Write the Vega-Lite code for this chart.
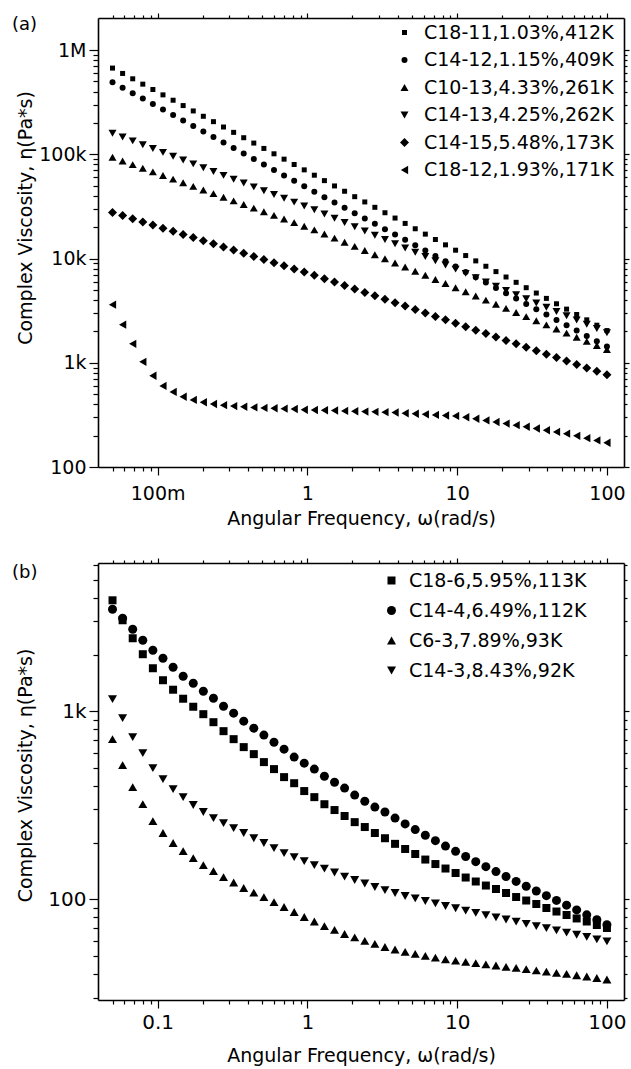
{
"$schema": "https://vega.github.io/schema/vega-lite/v6.json",
"padding": {"left": 12, "top": 12, "right": 5, "bottom": 5},
"background": "white",
"bounds": "flush",
"spacing": 96,
"resolve": {"scale": {"shape": "independent", "size": "independent"}, "legend": {"shape": "independent", "size": "independent"}},
"config": {
  "font": "DejaVu Sans",
  "view": {"stroke": null},
  "axis": {"domainColor": "black", "tickColor": "black", "labelColor": "black", "titleColor": "black", "domainWidth": 1.6, "tickWidth": 1.2, "grid": false, "labelFont": "DejaVu Sans", "titleFont": "DejaVu Sans", "titleFontWeight": "normal", "labelFontSize": 19, "titleFontSize": 19, "labelFlush": false, "labelOverlap": false},
  "legend": {"labelFont": "DejaVu Sans", "labelColor": "black", "labelLimit": 400},
  "title": {"font": "DejaVu Sans", "fontWeight": "normal", "color": "black"}
},
"vconcat": [
{
  "width": 526, "height": 449,
  "title": {"text": "(a)", "anchor": "start", "frame": "group", "offset": 0, "baseline": "middle", "dx": -86, "dy": 31, "fontSize": 18},
  "resolve": {"axis": {"x": "independent", "y": "independent"}},
  "data": {"values": [
{"s":"C18-11,1.03%,412K","w":0.05,"v":671400},{"s":"C18-11,1.03%,412K","w":0.05839,"v":596500},{"s":"C18-11,1.03%,412K","w":0.0682,"v":529900},{"s":"C18-11,1.03%,412K","w":0.07965,"v":470800},{"s":"C18-11,1.03%,412K","w":0.093,"v":418200},{"s":"C18-11,1.03%,412K","w":0.1086,"v":371600},{"s":"C18-11,1.03%,412K","w":0.1269,"v":330100},{"s":"C18-11,1.03%,412K","w":0.1481,"v":293300},{"s":"C18-11,1.03%,412K","w":0.173,"v":260500},{"s":"C18-11,1.03%,412K","w":0.202,"v":231500},
{"s":"C18-11,1.03%,412K","w":0.236,"v":205600},{"s":"C18-11,1.03%,412K","w":0.2755,"v":182700},{"s":"C18-11,1.03%,412K","w":0.3218,"v":162300},{"s":"C18-11,1.03%,412K","w":0.3758,"v":144200},{"s":"C18-11,1.03%,412K","w":0.4388,"v":128100},{"s":"C18-11,1.03%,412K","w":0.5125,"v":113800},{"s":"C18-11,1.03%,412K","w":0.5985,"v":101100},{"s":"C18-11,1.03%,412K","w":0.6989,"v":89800},{"s":"C18-11,1.03%,412K","w":0.8161,"v":79800},{"s":"C18-11,1.03%,412K","w":0.9528,"v":70900},
{"s":"C18-11,1.03%,412K","w":1.113,"v":63000},{"s":"C18-11,1.03%,412K","w":1.2995,"v":55900},{"s":"C18-11,1.03%,412K","w":1.518,"v":49700},{"s":"C18-11,1.03%,412K","w":1.772,"v":44200},{"s":"C18-11,1.03%,412K","w":2.07,"v":39200},{"s":"C18-11,1.03%,412K","w":2.417,"v":34900},{"s":"C18-11,1.03%,412K","w":2.822,"v":31000},{"s":"C18-11,1.03%,412K","w":3.296,"v":27500},{"s":"C18-11,1.03%,412K","w":3.849,"v":24450},{"s":"C18-11,1.03%,412K","w":4.495,"v":21720},
{"s":"C18-11,1.03%,412K","w":5.249,"v":19300},{"s":"C18-11,1.03%,412K","w":6.13,"v":17140},{"s":"C18-11,1.03%,412K","w":7.158,"v":15230},{"s":"C18-11,1.03%,412K","w":8.359,"v":13530},{"s":"C18-11,1.03%,412K","w":9.762,"v":12020},{"s":"C18-11,1.03%,412K","w":11.4,"v":10680},{"s":"C18-11,1.03%,412K","w":13.31,"v":9490},{"s":"C18-11,1.03%,412K","w":15.55,"v":8430},{"s":"C18-11,1.03%,412K","w":18.16,"v":7490},{"s":"C18-11,1.03%,412K","w":21.2,"v":6650},
{"s":"C18-11,1.03%,412K","w":24.76,"v":5910},{"s":"C18-11,1.03%,412K","w":28.91,"v":5250},{"s":"C18-11,1.03%,412K","w":33.76,"v":4665},{"s":"C18-11,1.03%,412K","w":39.43,"v":4145},{"s":"C18-11,1.03%,412K","w":46.04,"v":3680},{"s":"C18-11,1.03%,412K","w":53.77,"v":3270},{"s":"C18-11,1.03%,412K","w":62.79,"v":2905},{"s":"C18-11,1.03%,412K","w":73.33,"v":2581},{"s":"C18-11,1.03%,412K","w":85.63,"v":2293},{"s":"C18-11,1.03%,412K","w":100,"v":2037},
{"s":"C14-12,1.15%,409K","w":0.05,"v":492000},{"s":"C14-12,1.15%,409K","w":0.05839,"v":435900},{"s":"C14-12,1.15%,409K","w":0.0682,"v":386100},{"s":"C14-12,1.15%,409K","w":0.07965,"v":342100},{"s":"C14-12,1.15%,409K","w":0.093,"v":303100},{"s":"C14-12,1.15%,409K","w":0.1086,"v":268500},{"s":"C14-12,1.15%,409K","w":0.1269,"v":237900},{"s":"C14-12,1.15%,409K","w":0.1481,"v":210700},{"s":"C14-12,1.15%,409K","w":0.173,"v":186700},{"s":"C14-12,1.15%,409K","w":0.202,"v":165400},
{"s":"C14-12,1.15%,409K","w":0.236,"v":146500},{"s":"C14-12,1.15%,409K","w":0.2755,"v":129800},{"s":"C14-12,1.15%,409K","w":0.3218,"v":115000},{"s":"C14-12,1.15%,409K","w":0.3758,"v":101900},{"s":"C14-12,1.15%,409K","w":0.4388,"v":90250},{"s":"C14-12,1.15%,409K","w":0.5125,"v":79950},{"s":"C14-12,1.15%,409K","w":0.5985,"v":70830},{"s":"C14-12,1.15%,409K","w":0.6989,"v":62750},{"s":"C14-12,1.15%,409K","w":0.8161,"v":55590},{"s":"C14-12,1.15%,409K","w":0.9528,"v":49250},
{"s":"C14-12,1.15%,409K","w":1.113,"v":43630},{"s":"C14-12,1.15%,409K","w":1.2995,"v":38780},{"s":"C14-12,1.15%,409K","w":1.518,"v":34470},{"s":"C14-12,1.15%,409K","w":1.772,"v":30640},{"s":"C14-12,1.15%,409K","w":2.07,"v":27230},{"s":"C14-12,1.15%,409K","w":2.417,"v":24200},{"s":"C14-12,1.15%,409K","w":2.822,"v":21510},{"s":"C14-12,1.15%,409K","w":3.296,"v":19120},{"s":"C14-12,1.15%,409K","w":3.849,"v":16990},{"s":"C14-12,1.15%,409K","w":4.495,"v":15100},
{"s":"C14-12,1.15%,409K","w":5.249,"v":13420},{"s":"C14-12,1.15%,409K","w":6.13,"v":11930},{"s":"C14-12,1.15%,409K","w":7.158,"v":10600},{"s":"C14-12,1.15%,409K","w":8.359,"v":9425},{"s":"C14-12,1.15%,409K","w":9.762,"v":8377},{"s":"C14-12,1.15%,409K","w":11.4,"v":7446},{"s":"C14-12,1.15%,409K","w":13.31,"v":6618},{"s":"C14-12,1.15%,409K","w":15.55,"v":5882},{"s":"C14-12,1.15%,409K","w":18.16,"v":5228},{"s":"C14-12,1.15%,409K","w":21.2,"v":4647},
{"s":"C14-12,1.15%,409K","w":24.76,"v":4130},{"s":"C14-12,1.15%,409K","w":28.91,"v":3671},{"s":"C14-12,1.15%,409K","w":33.76,"v":3263},{"s":"C14-12,1.15%,409K","w":39.43,"v":2900},{"s":"C14-12,1.15%,409K","w":46.04,"v":2578},{"s":"C14-12,1.15%,409K","w":53.77,"v":2291},{"s":"C14-12,1.15%,409K","w":62.79,"v":2036},{"s":"C14-12,1.15%,409K","w":73.33,"v":1810},{"s":"C14-12,1.15%,409K","w":85.63,"v":1609},{"s":"C14-12,1.15%,409K","w":100,"v":1430},
{"s":"C10-13,4.33%,261K","w":0.05,"v":93500},{"s":"C10-13,4.33%,261K","w":0.05839,"v":86300},{"s":"C10-13,4.33%,261K","w":0.0682,"v":79650},{"s":"C10-13,4.33%,261K","w":0.07965,"v":73520},{"s":"C10-13,4.33%,261K","w":0.093,"v":67860},{"s":"C10-13,4.33%,261K","w":0.1086,"v":62630},{"s":"C10-13,4.33%,261K","w":0.1269,"v":57810},{"s":"C10-13,4.33%,261K","w":0.1481,"v":53360},{"s":"C10-13,4.33%,261K","w":0.173,"v":49250},{"s":"C10-13,4.33%,261K","w":0.202,"v":45460},
{"s":"C10-13,4.33%,261K","w":0.236,"v":41960},{"s":"C10-13,4.33%,261K","w":0.2755,"v":38730},{"s":"C10-13,4.33%,261K","w":0.3218,"v":35750},{"s":"C10-13,4.33%,261K","w":0.3758,"v":33000},{"s":"C10-13,4.33%,261K","w":0.4388,"v":30460},{"s":"C10-13,4.33%,261K","w":0.5125,"v":28110},{"s":"C10-13,4.33%,261K","w":0.5985,"v":25950},{"s":"C10-13,4.33%,261K","w":0.6989,"v":23950},{"s":"C10-13,4.33%,261K","w":0.8161,"v":22110},{"s":"C10-13,4.33%,261K","w":0.9528,"v":20400},
{"s":"C10-13,4.33%,261K","w":1.113,"v":18830},{"s":"C10-13,4.33%,261K","w":1.2995,"v":17190},{"s":"C10-13,4.33%,261K","w":1.518,"v":15690},{"s":"C10-13,4.33%,261K","w":1.772,"v":14320},{"s":"C10-13,4.33%,261K","w":2.07,"v":13070},{"s":"C10-13,4.33%,261K","w":2.417,"v":11930},{"s":"C10-13,4.33%,261K","w":2.822,"v":10890},{"s":"C10-13,4.33%,261K","w":3.296,"v":9941},{"s":"C10-13,4.33%,261K","w":3.849,"v":9074},{"s":"C10-13,4.33%,261K","w":4.495,"v":8283},
{"s":"C10-13,4.33%,261K","w":5.249,"v":7561},{"s":"C10-13,4.33%,261K","w":6.13,"v":6902},{"s":"C10-13,4.33%,261K","w":7.158,"v":6300},{"s":"C10-13,4.33%,261K","w":8.359,"v":5751},{"s":"C10-13,4.33%,261K","w":9.762,"v":5249},{"s":"C10-13,4.33%,261K","w":11.4,"v":4791},{"s":"C10-13,4.33%,261K","w":13.31,"v":4374},{"s":"C10-13,4.33%,261K","w":15.55,"v":3992},{"s":"C10-13,4.33%,261K","w":18.16,"v":3644},{"s":"C10-13,4.33%,261K","w":21.2,"v":3326},
{"s":"C10-13,4.33%,261K","w":24.76,"v":3036},{"s":"C10-13,4.33%,261K","w":28.91,"v":2772},{"s":"C10-13,4.33%,261K","w":33.76,"v":2530},{"s":"C10-13,4.33%,261K","w":39.43,"v":2309},{"s":"C10-13,4.33%,261K","w":46.04,"v":2108},{"s":"C10-13,4.33%,261K","w":53.77,"v":1924},{"s":"C10-13,4.33%,261K","w":62.79,"v":1756},{"s":"C10-13,4.33%,261K","w":73.33,"v":1603},{"s":"C10-13,4.33%,261K","w":85.63,"v":1463},{"s":"C10-13,4.33%,261K","w":100,"v":1336},
{"s":"C14-13,4.25%,262K","w":0.05,"v":159200},{"s":"C14-13,4.25%,262K","w":0.05839,"v":146300},{"s":"C14-13,4.25%,262K","w":0.0682,"v":134400},{"s":"C14-13,4.25%,262K","w":0.07965,"v":123500},{"s":"C14-13,4.25%,262K","w":0.093,"v":113500},{"s":"C14-13,4.25%,262K","w":0.1086,"v":104300},{"s":"C14-13,4.25%,262K","w":0.1269,"v":95840},{"s":"C14-13,4.25%,262K","w":0.1481,"v":88070},{"s":"C14-13,4.25%,262K","w":0.173,"v":80930},{"s":"C14-13,4.25%,262K","w":0.202,"v":74360},
{"s":"C14-13,4.25%,262K","w":0.236,"v":68330},{"s":"C14-13,4.25%,262K","w":0.2755,"v":62790},{"s":"C14-13,4.25%,262K","w":0.3218,"v":57700},{"s":"C14-13,4.25%,262K","w":0.3758,"v":53020},{"s":"C14-13,4.25%,262K","w":0.4388,"v":48720},{"s":"C14-13,4.25%,262K","w":0.5125,"v":44770},{"s":"C14-13,4.25%,262K","w":0.5985,"v":41140},{"s":"C14-13,4.25%,262K","w":0.6989,"v":37800},{"s":"C14-13,4.25%,262K","w":0.8161,"v":34740},{"s":"C14-13,4.25%,262K","w":0.9528,"v":31920},
{"s":"C14-13,4.25%,262K","w":1.113,"v":29330},{"s":"C14-13,4.25%,262K","w":1.2995,"v":26710},{"s":"C14-13,4.25%,262K","w":1.518,"v":24320},{"s":"C14-13,4.25%,262K","w":1.772,"v":22150},{"s":"C14-13,4.25%,262K","w":2.07,"v":20170},{"s":"C14-13,4.25%,262K","w":2.417,"v":18360},{"s":"C14-13,4.25%,262K","w":2.822,"v":16720},{"s":"C14-13,4.25%,262K","w":3.296,"v":15230},{"s":"C14-13,4.25%,262K","w":3.849,"v":13870},{"s":"C14-13,4.25%,262K","w":4.495,"v":12630},
{"s":"C14-13,4.25%,262K","w":5.249,"v":11500},{"s":"C14-13,4.25%,262K","w":6.13,"v":10470},{"s":"C14-13,4.25%,262K","w":7.158,"v":9535},{"s":"C14-13,4.25%,262K","w":8.359,"v":8683},{"s":"C14-13,4.25%,262K","w":9.762,"v":7907},{"s":"C14-13,4.25%,262K","w":11.4,"v":7200},{"s":"C14-13,4.25%,262K","w":13.31,"v":6556},{"s":"C14-13,4.25%,262K","w":15.55,"v":5970},{"s":"C14-13,4.25%,262K","w":18.16,"v":5437},{"s":"C14-13,4.25%,262K","w":21.2,"v":4951},
{"s":"C14-13,4.25%,262K","w":24.76,"v":4508},{"s":"C14-13,4.25%,262K","w":28.91,"v":4105},{"s":"C14-13,4.25%,262K","w":33.76,"v":3738},{"s":"C14-13,4.25%,262K","w":39.43,"v":3404},{"s":"C14-13,4.25%,262K","w":46.04,"v":3100},{"s":"C14-13,4.25%,262K","w":53.77,"v":2823},{"s":"C14-13,4.25%,262K","w":62.79,"v":2570},{"s":"C14-13,4.25%,262K","w":73.33,"v":2341},{"s":"C14-13,4.25%,262K","w":85.63,"v":2131},{"s":"C14-13,4.25%,262K","w":100,"v":1941},
{"s":"C14-15,5.48%,173K","w":0.05,"v":27670},{"s":"C14-15,5.48%,173K","w":0.05839,"v":25820},{"s":"C14-15,5.48%,173K","w":0.0682,"v":24090},{"s":"C14-15,5.48%,173K","w":0.07965,"v":22470},{"s":"C14-15,5.48%,173K","w":0.093,"v":20970},{"s":"C14-15,5.48%,173K","w":0.1086,"v":19560},{"s":"C14-15,5.48%,173K","w":0.1269,"v":18250},{"s":"C14-15,5.48%,173K","w":0.1481,"v":17030},{"s":"C14-15,5.48%,173K","w":0.173,"v":15890},{"s":"C14-15,5.48%,173K","w":0.202,"v":14820},
{"s":"C14-15,5.48%,173K","w":0.236,"v":13830},{"s":"C14-15,5.48%,173K","w":0.2755,"v":12900},{"s":"C14-15,5.48%,173K","w":0.3218,"v":12040},{"s":"C14-15,5.48%,173K","w":0.3758,"v":11230},{"s":"C14-15,5.48%,173K","w":0.4388,"v":10480},{"s":"C14-15,5.48%,173K","w":0.5125,"v":9778},{"s":"C14-15,5.48%,173K","w":0.5985,"v":9123},{"s":"C14-15,5.48%,173K","w":0.6989,"v":8512},{"s":"C14-15,5.48%,173K","w":0.8161,"v":7942},{"s":"C14-15,5.48%,173K","w":0.9528,"v":7410},
{"s":"C14-15,5.48%,173K","w":1.113,"v":6913},{"s":"C14-15,5.48%,173K","w":1.2995,"v":6408},{"s":"C14-15,5.48%,173K","w":1.518,"v":5941},{"s":"C14-15,5.48%,173K","w":1.772,"v":5507},{"s":"C14-15,5.48%,173K","w":2.07,"v":5105},{"s":"C14-15,5.48%,173K","w":2.417,"v":4733},{"s":"C14-15,5.48%,173K","w":2.822,"v":4387},{"s":"C14-15,5.48%,173K","w":3.296,"v":4067},{"s":"C14-15,5.48%,173K","w":3.849,"v":3770},{"s":"C14-15,5.48%,173K","w":4.495,"v":3495},
{"s":"C14-15,5.48%,173K","w":5.249,"v":3240},{"s":"C14-15,5.48%,173K","w":6.13,"v":3003},{"s":"C14-15,5.48%,173K","w":7.158,"v":2784},{"s":"C14-15,5.48%,173K","w":8.359,"v":2581},{"s":"C14-15,5.48%,173K","w":9.762,"v":2393},{"s":"C14-15,5.48%,173K","w":11.4,"v":2218},{"s":"C14-15,5.48%,173K","w":13.31,"v":2056},{"s":"C14-15,5.48%,173K","w":15.55,"v":1906},{"s":"C14-15,5.48%,173K","w":18.16,"v":1767},{"s":"C14-15,5.48%,173K","w":21.2,"v":1638},
{"s":"C14-15,5.48%,173K","w":24.76,"v":1518},{"s":"C14-15,5.48%,173K","w":28.91,"v":1408},{"s":"C14-15,5.48%,173K","w":33.76,"v":1305},{"s":"C14-15,5.48%,173K","w":39.43,"v":1210},{"s":"C14-15,5.48%,173K","w":46.04,"v":1121},{"s":"C14-15,5.48%,173K","w":53.77,"v":1039},{"s":"C14-15,5.48%,173K","w":62.79,"v":963},{"s":"C14-15,5.48%,173K","w":73.33,"v":893},{"s":"C14-15,5.48%,173K","w":85.63,"v":828},{"s":"C14-15,5.48%,173K","w":100,"v":768},
{"s":"C18-12,1.93%,171K","w":0.05,"v":3610},{"s":"C18-12,1.93%,171K","w":0.05839,"v":2320},{"s":"C18-12,1.93%,171K","w":0.0682,"v":1520},{"s":"C18-12,1.93%,171K","w":0.07965,"v":1020},{"s":"C18-12,1.93%,171K","w":0.093,"v":750},{"s":"C18-12,1.93%,171K","w":0.1086,"v":600},{"s":"C18-12,1.93%,171K","w":0.1269,"v":525},{"s":"C18-12,1.93%,171K","w":0.1481,"v":472},{"s":"C18-12,1.93%,171K","w":0.173,"v":440},{"s":"C18-12,1.93%,171K","w":0.202,"v":418},
{"s":"C18-12,1.93%,171K","w":0.236,"v":402},{"s":"C18-12,1.93%,171K","w":0.2755,"v":392},{"s":"C18-12,1.93%,171K","w":0.3218,"v":384},{"s":"C18-12,1.93%,171K","w":0.3758,"v":378},{"s":"C18-12,1.93%,171K","w":0.4388,"v":373},{"s":"C18-12,1.93%,171K","w":0.5125,"v":369},{"s":"C18-12,1.93%,171K","w":0.5985,"v":366},{"s":"C18-12,1.93%,171K","w":0.6989,"v":363},{"s":"C18-12,1.93%,171K","w":0.8161,"v":360},{"s":"C18-12,1.93%,171K","w":0.9528,"v":354},
{"s":"C18-12,1.93%,171K","w":1.113,"v":352},{"s":"C18-12,1.93%,171K","w":1.2995,"v":350},{"s":"C18-12,1.93%,171K","w":1.518,"v":348},{"s":"C18-12,1.93%,171K","w":1.772,"v":345},{"s":"C18-12,1.93%,171K","w":2.07,"v":343},{"s":"C18-12,1.93%,171K","w":2.417,"v":340},{"s":"C18-12,1.93%,171K","w":2.822,"v":338},{"s":"C18-12,1.93%,171K","w":3.296,"v":336},{"s":"C18-12,1.93%,171K","w":3.849,"v":333},{"s":"C18-12,1.93%,171K","w":4.495,"v":328},
{"s":"C18-12,1.93%,171K","w":5.249,"v":324},{"s":"C18-12,1.93%,171K","w":6.13,"v":320},{"s":"C18-12,1.93%,171K","w":7.158,"v":316},{"s":"C18-12,1.93%,171K","w":8.359,"v":312},{"s":"C18-12,1.93%,171K","w":9.762,"v":309},{"s":"C18-12,1.93%,171K","w":11.4,"v":300},{"s":"C18-12,1.93%,171K","w":13.31,"v":290},{"s":"C18-12,1.93%,171K","w":15.55,"v":280},{"s":"C18-12,1.93%,171K","w":18.16,"v":270},{"s":"C18-12,1.93%,171K","w":21.2,"v":261},
{"s":"C18-12,1.93%,171K","w":24.76,"v":252},{"s":"C18-12,1.93%,171K","w":28.91,"v":243},{"s":"C18-12,1.93%,171K","w":33.76,"v":234},{"s":"C18-12,1.93%,171K","w":39.43,"v":225},{"s":"C18-12,1.93%,171K","w":46.04,"v":217},{"s":"C18-12,1.93%,171K","w":53.77,"v":209},{"s":"C18-12,1.93%,171K","w":62.79,"v":199},{"s":"C18-12,1.93%,171K","w":73.33,"v":189},{"s":"C18-12,1.93%,171K","w":85.63,"v":180},{"s":"C18-12,1.93%,171K","w":100,"v":171}
  ]},
  "layer": [
    {
      "mark": {"type": "point", "filled": true, "opacity": 1, "strokeWidth": 0},
      "encoding": {
        "x": {"field": "w", "type": "quantitative", "scale": {"type": "log", "domain": [0.04, 130], "nice": false},
              "axis": {"orient": "bottom", "values": [0.1, 1, 10, 100], "format": "~s", "tickSize": 8, "labelPadding": 9, "title": "Angular Frequency, ω(rad/s)", "titleY": 51, "titleBaseline": "middle"}},
        "y": {"field": "v", "type": "quantitative", "scale": {"type": "log", "domain": [100, 2030000], "nice": false},
              "axis": {"orient": "left", "values": [100, 1000, 10000, 100000, 1000000], "format": "~s", "tickSize": 9, "labelPadding": 3, "title": "Complex Viscosity, η(Pa*s)", "titleX": -73, "titleY": 199.5, "titleAngle": 270, "titleBaseline": "middle", "titleAlign": "center"}},
        "shape": {"field": "s", "type": "nominal",
                  "scale": {"domain": ["C18-11,1.03%,412K", "C14-12,1.15%,409K", "C10-13,4.33%,261K", "C14-13,4.25%,262K", "C14-15,5.48%,173K", "C18-12,1.93%,171K"], "range": ["square", "circle", "triangle-up", "triangle-down", "diamond", "triangle-left"]},
                  "legend": {"title": null, "orient": "none", "legendX": 297, "legendY": 5, "labelFontSize": 19, "labelOffset": 10, "rowPadding": 7.5, "padding": 0, "symbolFillColor": "black", "symbolStrokeWidth": 0}},
        "size": {"field": "s", "type": "nominal",
                 "scale": {"type": "ordinal", "domain": ["C18-11,1.03%,412K", "C14-12,1.15%,409K", "C10-13,4.33%,261K", "C14-13,4.25%,262K", "C14-15,5.48%,173K", "C18-12,1.93%,171K"], "range": [25, 36, 64, 64, 81, 70]},
                 "legend": {"title": null, "orient": "none", "legendX": 297, "legendY": 5, "labelFontSize": 19, "labelOffset": 10, "rowPadding": 7.5, "padding": 0, "symbolFillColor": "black", "symbolStrokeWidth": 0}},
        "color": {"value": "black"}
      }
    },
    {
      "mark": {"type": "point", "opacity": 0},
      "encoding": {
        "x": {"field": "w", "type": "quantitative", "axis": {"orient": "bottom", "values": [0.05,0.06,0.07,0.08,0.09,0.2,0.3,0.4,0.5,0.6,0.7,0.8,0.9,2,3,4,5,6,7,8,9,20,30,40,50,60,70,80,90], "labels": false, "title": null, "domain": false, "tickSize": 4}},
        "y": {"field": "v", "type": "quantitative", "axis": {"orient": "left", "values": [200,300,400,500,600,700,800,900,2000,3000,4000,5000,6000,7000,8000,9000,20000,30000,40000,50000,60000,70000,80000,90000,200000,300000,400000,500000,600000,700000,800000,900000], "labels": false, "title": null, "domain": false, "tickSize": 5}}
      }
    },
    {
      "mark": {"type": "point", "opacity": 0},
      "encoding": {
        "x": {"field": "w", "type": "quantitative", "axis": {"orient": "top", "values": [0.1, 1, 10, 100], "labels": false, "title": null, "tickSize": 5}},
        "y": {"field": "v", "type": "quantitative", "axis": {"orient": "right", "values": [100, 1000, 10000, 100000, 1000000], "labels": false, "title": null, "tickSize": 5}}
      }
    },
    {
      "mark": {"type": "point", "opacity": 0},
      "encoding": {
        "x": {"field": "w", "type": "quantitative", "axis": {"orient": "top", "values": [0.05,0.06,0.07,0.08,0.09,0.2,0.3,0.4,0.5,0.6,0.7,0.8,0.9,2,3,4,5,6,7,8,9,20,30,40,50,60,70,80,90], "labels": false, "title": null, "domain": false, "tickSize": 3}},
        "y": {"field": "v", "type": "quantitative", "axis": {"orient": "right", "values": [200,300,400,500,600,700,800,900,2000,3000,4000,5000,6000,7000,8000,9000,20000,30000,40000,50000,60000,70000,80000,90000,200000,300000,400000,500000,600000,700000,800000,900000], "labels": false, "title": null, "domain": false, "tickSize": 3}}
      }
    }
  ]
},
{
  "width": 526, "height": 437,
  "title": {"text": "(b)", "anchor": "start", "frame": "group", "offset": 0, "baseline": "middle", "dx": -86, "dy": 34, "fontSize": 18},
  "resolve": {"axis": {"x": "independent", "y": "independent"}},
  "data": {"values": [
{"s":"C18-6,5.95%,113K","w":0.05,"v":3889},{"s":"C18-6,5.95%,113K","w":0.05839,"v":3045},{"s":"C18-6,5.95%,113K","w":0.0682,"v":2443},{"s":"C18-6,5.95%,113K","w":0.07965,"v":2009},{"s":"C18-6,5.95%,113K","w":0.093,"v":1692},{"s":"C18-6,5.95%,113K","w":0.1086,"v":1461},{"s":"C18-6,5.95%,113K","w":0.1269,"v":1301},{"s":"C18-6,5.95%,113K","w":0.1481,"v":1165},{"s":"C18-6,5.95%,113K","w":0.173,"v":1056},{"s":"C18-6,5.95%,113K","w":0.202,"v":964},
{"s":"C18-6,5.95%,113K","w":0.236,"v":874},{"s":"C18-6,5.95%,113K","w":0.2755,"v":783},{"s":"C18-6,5.95%,113K","w":0.3218,"v":710},{"s":"C18-6,5.95%,113K","w":0.3758,"v":644},{"s":"C18-6,5.95%,113K","w":0.4388,"v":591},{"s":"C18-6,5.95%,113K","w":0.5125,"v":536},{"s":"C18-6,5.95%,113K","w":0.5985,"v":492},{"s":"C18-6,5.95%,113K","w":0.6989,"v":446},{"s":"C18-6,5.95%,113K","w":0.8161,"v":414},{"s":"C18-6,5.95%,113K","w":0.9528,"v":376},
{"s":"C18-6,5.95%,113K","w":1.113,"v":349},{"s":"C18-6,5.95%,113K","w":1.2995,"v":320},{"s":"C18-6,5.95%,113K","w":1.518,"v":298},{"s":"C18-6,5.95%,113K","w":1.772,"v":277},{"s":"C18-6,5.95%,113K","w":2.07,"v":257},{"s":"C18-6,5.95%,113K","w":2.417,"v":242},{"s":"C18-6,5.95%,113K","w":2.822,"v":225},{"s":"C18-6,5.95%,113K","w":3.296,"v":211},{"s":"C18-6,5.95%,113K","w":3.849,"v":197},{"s":"C18-6,5.95%,113K","w":4.495,"v":185},
{"s":"C18-6,5.95%,113K","w":5.249,"v":174},{"s":"C18-6,5.95%,113K","w":6.13,"v":162.5},{"s":"C18-6,5.95%,113K","w":7.158,"v":153.8},{"s":"C18-6,5.95%,113K","w":8.359,"v":145.6},{"s":"C18-6,5.95%,113K","w":9.762,"v":137.8},{"s":"C18-6,5.95%,113K","w":11.4,"v":130.4},{"s":"C18-6,5.95%,113K","w":13.31,"v":124.2},{"s":"C18-6,5.95%,113K","w":15.55,"v":118.2},{"s":"C18-6,5.95%,113K","w":18.16,"v":113.3},{"s":"C18-6,5.95%,113K","w":21.2,"v":107.9},
{"s":"C18-6,5.95%,113K","w":24.76,"v":102.7},{"s":"C18-6,5.95%,113K","w":28.91,"v":98.4},{"s":"C18-6,5.95%,113K","w":33.76,"v":94.3},{"s":"C18-6,5.95%,113K","w":39.43,"v":89.8},{"s":"C18-6,5.95%,113K","w":46.04,"v":86.0},{"s":"C18-6,5.95%,113K","w":53.77,"v":82.4},{"s":"C18-6,5.95%,113K","w":62.79,"v":79.0},{"s":"C18-6,5.95%,113K","w":73.33,"v":76.1},{"s":"C18-6,5.95%,113K","w":85.63,"v":72.9},{"s":"C18-6,5.95%,113K","w":100,"v":70.3},
{"s":"C14-4,6.49%,112K","w":0.05,"v":3483},{"s":"C14-4,6.49%,112K","w":0.05839,"v":3121},{"s":"C14-4,6.49%,112K","w":0.0682,"v":2727},{"s":"C14-4,6.49%,112K","w":0.07965,"v":2384},{"s":"C14-4,6.49%,112K","w":0.093,"v":2110},{"s":"C14-4,6.49%,112K","w":0.1086,"v":1912},{"s":"C14-4,6.49%,112K","w":0.1269,"v":1713},{"s":"C14-4,6.49%,112K","w":0.1481,"v":1535},{"s":"C14-4,6.49%,112K","w":0.173,"v":1408},{"s":"C14-4,6.49%,112K","w":0.202,"v":1277},
{"s":"C14-4,6.49%,112K","w":0.236,"v":1172},{"s":"C14-4,6.49%,112K","w":0.2755,"v":1063},{"s":"C14-4,6.49%,112K","w":0.3218,"v":976},{"s":"C14-4,6.49%,112K","w":0.3758,"v":885},{"s":"C14-4,6.49%,112K","w":0.4388,"v":812},{"s":"C14-4,6.49%,112K","w":0.5125,"v":746},{"s":"C14-4,6.49%,112K","w":0.5985,"v":684},{"s":"C14-4,6.49%,112K","w":0.6989,"v":628},{"s":"C14-4,6.49%,112K","w":0.8161,"v":570},{"s":"C14-4,6.49%,112K","w":0.9528,"v":529},
{"s":"C14-4,6.49%,112K","w":1.113,"v":492},{"s":"C14-4,6.49%,112K","w":1.2995,"v":451},{"s":"C14-4,6.49%,112K","w":1.518,"v":419},{"s":"C14-4,6.49%,112K","w":1.772,"v":390},{"s":"C14-4,6.49%,112K","w":2.07,"v":358},{"s":"C14-4,6.49%,112K","w":2.417,"v":332},{"s":"C14-4,6.49%,112K","w":2.822,"v":309},{"s":"C14-4,6.49%,112K","w":3.296,"v":291},{"s":"C14-4,6.49%,112K","w":3.849,"v":270},{"s":"C14-4,6.49%,112K","w":4.495,"v":251.5},
{"s":"C14-4,6.49%,112K","w":5.249,"v":234.6},{"s":"C14-4,6.49%,112K","w":6.13,"v":219.0},{"s":"C14-4,6.49%,112K","w":7.158,"v":204.8},{"s":"C14-4,6.49%,112K","w":8.359,"v":191.7},{"s":"C14-4,6.49%,112K","w":9.762,"v":179.7},{"s":"C14-4,6.49%,112K","w":11.4,"v":168.6},{"s":"C14-4,6.49%,112K","w":13.31,"v":158.4},{"s":"C14-4,6.49%,112K","w":15.55,"v":149.0},{"s":"C14-4,6.49%,112K","w":18.16,"v":140.2},{"s":"C14-4,6.49%,112K","w":21.2,"v":132.0},
{"s":"C14-4,6.49%,112K","w":24.76,"v":124.3},{"s":"C14-4,6.49%,112K","w":28.91,"v":117.2},{"s":"C14-4,6.49%,112K","w":33.76,"v":110.6},{"s":"C14-4,6.49%,112K","w":39.43,"v":104.4},{"s":"C14-4,6.49%,112K","w":46.04,"v":98.5},{"s":"C14-4,6.49%,112K","w":53.77,"v":93.0},{"s":"C14-4,6.49%,112K","w":62.79,"v":87.7},{"s":"C14-4,6.49%,112K","w":73.33,"v":82.6},{"s":"C14-4,6.49%,112K","w":85.63,"v":77.7},{"s":"C14-4,6.49%,112K","w":100,"v":73.1},
{"s":"C6-3,7.89%,93K","w":0.05,"v":710},{"s":"C6-3,7.89%,93K","w":0.05839,"v":517},{"s":"C6-3,7.89%,93K","w":0.0682,"v":395},{"s":"C6-3,7.89%,93K","w":0.07965,"v":320},{"s":"C6-3,7.89%,93K","w":0.093,"v":260},{"s":"C6-3,7.89%,93K","w":0.1086,"v":225},{"s":"C6-3,7.89%,93K","w":0.1269,"v":199},{"s":"C6-3,7.89%,93K","w":0.1481,"v":180},{"s":"C6-3,7.89%,93K","w":0.173,"v":165.5},{"s":"C6-3,7.89%,93K","w":0.202,"v":151.9},
{"s":"C6-3,7.89%,93K","w":0.236,"v":141.2},{"s":"C6-3,7.89%,93K","w":0.2755,"v":131.2},{"s":"C6-3,7.89%,93K","w":0.3218,"v":122.7},{"s":"C6-3,7.89%,93K","w":0.3758,"v":114.7},{"s":"C6-3,7.89%,93K","w":0.4388,"v":108.5},{"s":"C6-3,7.89%,93K","w":0.5125,"v":102.7},{"s":"C6-3,7.89%,93K","w":0.5985,"v":96.6},{"s":"C6-3,7.89%,93K","w":0.6989,"v":90.9},{"s":"C6-3,7.89%,93K","w":0.8161,"v":85.5},{"s":"C6-3,7.89%,93K","w":0.9528,"v":80.4},
{"s":"C6-3,7.89%,93K","w":1.113,"v":76.1},{"s":"C6-3,7.89%,93K","w":1.2995,"v":72.0},{"s":"C6-3,7.89%,93K","w":1.518,"v":68.6},{"s":"C6-3,7.89%,93K","w":1.772,"v":65.3},{"s":"C6-3,7.89%,93K","w":2.07,"v":62.6},{"s":"C6-3,7.89%,93K","w":2.417,"v":60.0},{"s":"C6-3,7.89%,93K","w":2.822,"v":57.8},{"s":"C6-3,7.89%,93K","w":3.296,"v":55.7},{"s":"C6-3,7.89%,93K","w":3.849,"v":54.0},{"s":"C6-3,7.89%,93K","w":4.495,"v":52.4},
{"s":"C6-3,7.89%,93K","w":5.249,"v":51.2},{"s":"C6-3,7.89%,93K","w":6.13,"v":49.9},{"s":"C6-3,7.89%,93K","w":7.158,"v":48.9},{"s":"C6-3,7.89%,93K","w":8.359,"v":47.9},{"s":"C6-3,7.89%,93K","w":9.762,"v":47.1},{"s":"C6-3,7.89%,93K","w":11.4,"v":46.4},{"s":"C6-3,7.89%,93K","w":13.31,"v":45.7},{"s":"C6-3,7.89%,93K","w":15.55,"v":45.0},{"s":"C6-3,7.89%,93K","w":18.16,"v":44.4},{"s":"C6-3,7.89%,93K","w":21.2,"v":43.7},
{"s":"C6-3,7.89%,93K","w":24.76,"v":43.1},{"s":"C6-3,7.89%,93K","w":28.91,"v":42.5},{"s":"C6-3,7.89%,93K","w":33.76,"v":41.8},{"s":"C6-3,7.89%,93K","w":39.43,"v":41.2},{"s":"C6-3,7.89%,93K","w":46.04,"v":40.6},{"s":"C6-3,7.89%,93K","w":53.77,"v":40.1},{"s":"C6-3,7.89%,93K","w":62.79,"v":39.4},{"s":"C6-3,7.89%,93K","w":73.33,"v":38.8},{"s":"C6-3,7.89%,93K","w":85.63,"v":38.1},{"s":"C6-3,7.89%,93K","w":100,"v":37.4},
{"s":"C14-3,8.43%,92K","w":0.05,"v":1158},{"s":"C14-3,8.43%,92K","w":0.05839,"v":918},{"s":"C14-3,8.43%,92K","w":0.0682,"v":727},{"s":"C14-3,8.43%,92K","w":0.07965,"v":598},{"s":"C14-3,8.43%,92K","w":0.093,"v":498},{"s":"C14-3,8.43%,92K","w":0.1086,"v":435},{"s":"C14-3,8.43%,92K","w":0.1269,"v":385},{"s":"C14-3,8.43%,92K","w":0.1481,"v":349},{"s":"C14-3,8.43%,92K","w":0.173,"v":317},{"s":"C14-3,8.43%,92K","w":0.202,"v":291},
{"s":"C14-3,8.43%,92K","w":0.236,"v":270},{"s":"C14-3,8.43%,92K","w":0.2755,"v":254},{"s":"C14-3,8.43%,92K","w":0.3218,"v":239},{"s":"C14-3,8.43%,92K","w":0.3758,"v":225},{"s":"C14-3,8.43%,92K","w":0.4388,"v":211},{"s":"C14-3,8.43%,92K","w":0.5125,"v":199},{"s":"C14-3,8.43%,92K","w":0.5985,"v":187},{"s":"C14-3,8.43%,92K","w":0.6989,"v":176},{"s":"C14-3,8.43%,92K","w":0.8161,"v":167.6},{"s":"C14-3,8.43%,92K","w":0.9528,"v":159.6},
{"s":"C14-3,8.43%,92K","w":1.113,"v":151.9},{"s":"C14-3,8.43%,92K","w":1.2995,"v":145.6},{"s":"C14-3,8.43%,92K","w":1.518,"v":138.7},{"s":"C14-3,8.43%,92K","w":1.772,"v":132.0},{"s":"C14-3,8.43%,92K","w":2.07,"v":126.5},{"s":"C14-3,8.43%,92K","w":2.417,"v":121.2},{"s":"C14-3,8.43%,92K","w":2.822,"v":116.1},{"s":"C14-3,8.43%,92K","w":3.296,"v":111.9},{"s":"C14-3,8.43%,92K","w":3.849,"v":107.9},{"s":"C14-3,8.43%,92K","w":4.495,"v":104.0},
{"s":"C14-3,8.43%,92K","w":5.249,"v":100.9},{"s":"C14-3,8.43%,92K","w":6.13,"v":97.8},{"s":"C14-3,8.43%,92K","w":7.158,"v":94.9},{"s":"C14-3,8.43%,92K","w":8.359,"v":92.0},{"s":"C14-3,8.43%,92K","w":9.762,"v":89.5},{"s":"C14-3,8.43%,92K","w":11.4,"v":87.0},{"s":"C14-3,8.43%,92K","w":13.31,"v":84.6},{"s":"C14-3,8.43%,92K","w":15.55,"v":82.3},{"s":"C14-3,8.43%,92K","w":18.16,"v":80.1},{"s":"C14-3,8.43%,92K","w":21.2,"v":78.0},
{"s":"C14-3,8.43%,92K","w":24.76,"v":75.9},{"s":"C14-3,8.43%,92K","w":28.91,"v":74.0},{"s":"C14-3,8.43%,92K","w":33.76,"v":72.0},{"s":"C14-3,8.43%,92K","w":39.43,"v":70.1},{"s":"C14-3,8.43%,92K","w":46.04,"v":68.3},{"s":"C14-3,8.43%,92K","w":53.77,"v":66.4},{"s":"C14-3,8.43%,92K","w":62.79,"v":64.7},{"s":"C14-3,8.43%,92K","w":73.33,"v":63.0},{"s":"C14-3,8.43%,92K","w":85.63,"v":61.2},{"s":"C14-3,8.43%,92K","w":100,"v":59.6}
  ]},
  "layer": [
    {
      "mark": {"type": "point", "filled": true, "opacity": 1, "strokeWidth": 0},
      "encoding": {
        "x": {"field": "w", "type": "quantitative", "scale": {"type": "log", "domain": [0.04, 130], "nice": false},
              "axis": {"orient": "bottom", "values": [0.1, 1, 10, 100], "format": "~g", "tickSize": 8, "labelPadding": 4, "labelFontSize": 20, "title": "Angular Frequency, ω(rad/s)", "titleY": 55, "titleBaseline": "middle"}},
        "y": {"field": "v", "type": "quantitative", "scale": {"type": "log", "domain": [29.1, 6140], "nice": false},
              "axis": {"orient": "left", "values": [100, 1000], "format": "~s", "tickSize": 9, "labelPadding": 3, "labelFontSize": 20, "title": "Complex Viscosity, η(Pa*s)", "titleX": -73, "titleY": 212, "titleAngle": 270, "titleBaseline": "middle", "titleAlign": "center"}},
        "shape": {"field": "s", "type": "nominal",
                  "scale": {"domain": ["C18-6,5.95%,113K", "C14-4,6.49%,112K", "C6-3,7.89%,93K", "C14-3,8.43%,92K"], "range": ["square", "circle", "triangle-up", "triangle-down"]},
                  "legend": {"title": null, "orient": "none", "legendX": 284, "legendY": 8, "labelFontSize": 19, "labelOffset": 8, "rowPadding": 10, "padding": 0, "symbolFillColor": "black", "symbolStrokeWidth": 0}},
        "size": {"field": "s", "type": "nominal",
                 "scale": {"type": "ordinal", "domain": ["C18-6,5.95%,113K", "C14-4,6.49%,112K", "C6-3,7.89%,93K", "C14-3,8.43%,92K"], "range": [64, 81, 81, 81]},
                 "legend": {"title": null, "orient": "none", "legendX": 284, "legendY": 8, "labelFontSize": 19, "labelOffset": 8, "rowPadding": 10, "padding": 0, "symbolFillColor": "black", "symbolStrokeWidth": 0}},
        "color": {"value": "black"}
      }
    },
    {
      "mark": {"type": "point", "opacity": 0},
      "encoding": {
        "x": {"field": "w", "type": "quantitative", "axis": {"orient": "bottom", "values": [0.05,0.06,0.07,0.08,0.09,0.2,0.3,0.4,0.5,0.6,0.7,0.8,0.9,2,3,4,5,6,7,8,9,20,30,40,50,60,70,80,90], "labels": false, "title": null, "domain": false, "tickSize": 4}},
        "y": {"field": "v", "type": "quantitative", "axis": {"orient": "left", "values": [30,40,50,60,70,80,90,200,300,400,500,600,700,800,900,2000,3000,4000,5000,6000], "labels": false, "title": null, "domain": false, "tickSize": 5}}
      }
    },
    {
      "mark": {"type": "point", "opacity": 0},
      "encoding": {
        "x": {"field": "w", "type": "quantitative", "axis": {"orient": "top", "values": [0.1, 1, 10, 100], "labels": false, "title": null, "tickSize": 5}},
        "y": {"field": "v", "type": "quantitative", "axis": {"orient": "right", "values": [100, 1000], "labels": false, "title": null, "tickSize": 5}}
      }
    },
    {
      "mark": {"type": "point", "opacity": 0},
      "encoding": {
        "x": {"field": "w", "type": "quantitative", "axis": {"orient": "top", "values": [0.05,0.06,0.07,0.08,0.09,0.2,0.3,0.4,0.5,0.6,0.7,0.8,0.9,2,3,4,5,6,7,8,9,20,30,40,50,60,70,80,90], "labels": false, "title": null, "domain": false, "tickSize": 3}},
        "y": {"field": "v", "type": "quantitative", "axis": {"orient": "right", "values": [30,40,50,60,70,80,90,200,300,400,500,600,700,800,900,2000,3000,4000,5000,6000], "labels": false, "title": null, "domain": false, "tickSize": 3}}
      }
    }
  ]
}
]
}
